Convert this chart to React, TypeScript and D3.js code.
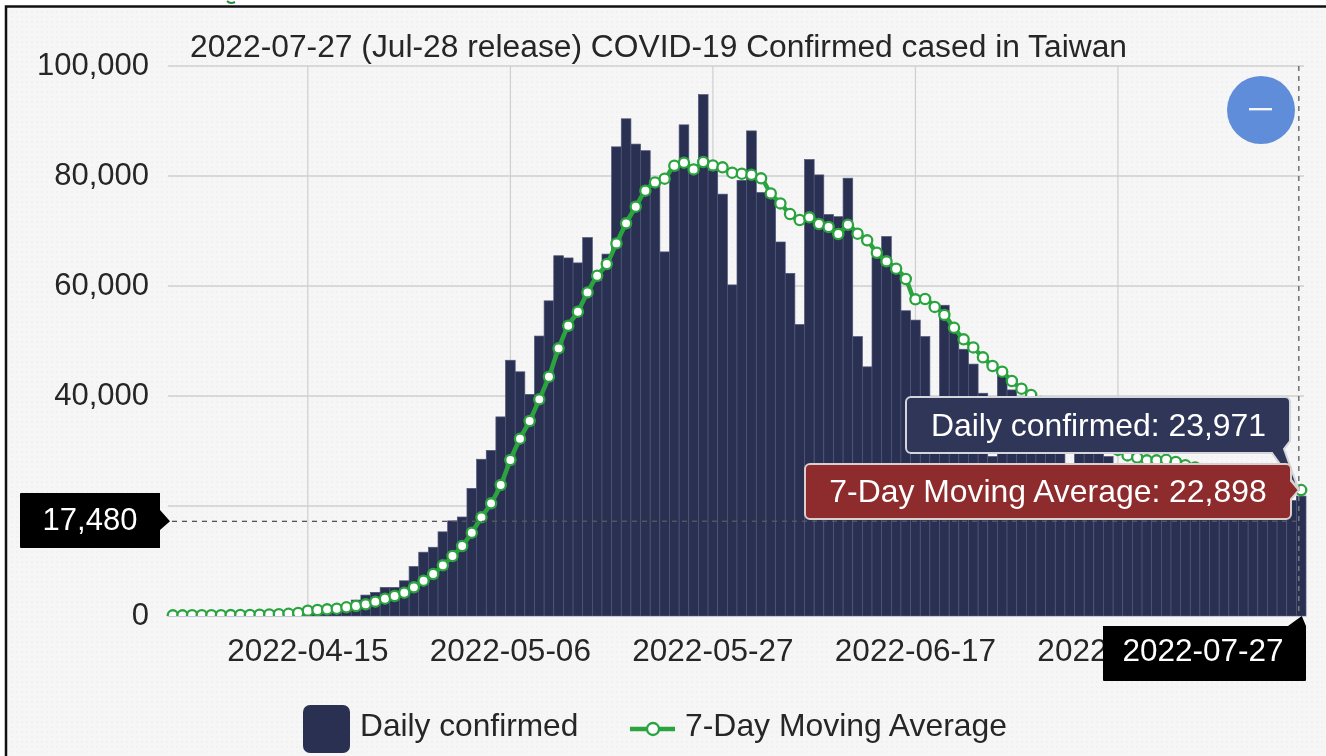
import React from "react";
import * as d3 from "d3";

const titleText = "2022-07-27 (Jul-28 release) COVID-19 Confirmed cased in Taiwan";
const startDate = "2022-04-01";
const dailyConfirmed = [
  50,60,70,80,80,90,100,110,130,150,200,250,300,380,
  430,500,700,1000,1600,
  2900,3800,4300,5200,5200,6400,9000,11600,12500,15300,17300,
  18000,23200,28500,30100,36200,46500,44400,40300,50900,57300,
  65500,65100,64200,68800,61000,65800,85300,90400,85800,84600,
  78500,66200,81000,89300,81700,94800,81000,76700,60200,79200,
  88200,77000,76200,68000,62300,53000,83000,80200,73000,72600,
  79600,50800,45300,65300,69000,63500,55500,53800,50800,32000,
  56500,52000,48500,45800,40500,29000,44600,41100,36000,34000,
  31000,33000,31500,27000,30500,30000,29500,29000,27000,26000,
  25000,27000,26000,25500,24000,21000,26000,25500,24500,25000,
  24000,22500,19500,24500,24000,23000,21000,21800,
];
const movingAverage = [
  120,120,130,130,140,150,160,180,200,230,270,320,400,560,
  970,1090,1210,1330,1580,1820,2120,2610,3150,3640,4240,5210,6420,7640,9210,10910,
  12730,15150,17940,20480,23820,28360,32240,35450,39390,43510,
  48660,52780,55330,58840,61870,63990,67750,71390,74420,77330,
  78840,79510,81870,82420,81200,82540,81930,81570,80600,80420,
  80230,79570,76840,75020,73080,71990,72480,71270,70720,69450,
  71140,69510,68300,66050,64480,63150,61270,57570,57630,56200,
  54750,52420,50300,48840,47030,45450,44420,42720,41330,40180,
  38900,37700,36300,34800,33800,32900,31900,31000,30200,29200,
  28800,28300,28300,28400,28000,27400,27000,26700,26400,26000,
  25600,25300,25000,24600,24200,23800,23300,22898,
];
const yTicks = [0, 20000, 40000, 60000, 80000, 100000];
const xTickLabels = ["2022-04-15", "2022-05-06", "2022-05-27", "2022-06-17", "2022-07-08"];
const legendLabels = ["Daily confirmed", "7-Day Moving Average"];
const tooltipDaily = "Daily confirmed: 23,971";
const tooltipAverage = "7-Day Moving Average: 22,898";
const crosshairValue = 17480;
const crosshairDate = "2022-07-27";

const fmtDate = d3.utcFormat("%Y-%m-%d");
const first = new Date(startDate + "T00:00:00Z");
const dates = dailyConfirmed.map((_, i) => fmtDate(d3.utcDay.offset(first, i)));

const FONT = "'Liberation Sans', Arial, sans-serif";
const NAVY = "#2a3052";
const GREEN = "#2ba43f";
const TEXT = "#262626";

export default function App() {
  const x = d3.scaleBand<string>().domain(dates).range([168, 1306]).paddingInner(0).paddingOuter(0);
  const y = d3.scaleLinear().domain([0, 100000]).range([616, 66]);
  const cx = (d: string) => (x(d) as number) + x.bandwidth() / 2;
  const line = d3
    .line<number>()
    .x((_, i) => cx(dates[i]))
    .y((v) => y(v))
    .curve(d3.curveMonotoneX);
  const fmt = d3.format(",");
  const hairX = cx(crosshairDate) - 2.4;
  const hairY = y(crosshairValue) + 1.5;
  const tipY = y(movingAverage[movingAverage.length - 1]);

  return (
    <svg
      width={1326}
      height={756}
      viewBox="0 0 1326 756"
      style={{ position: "absolute", left: 0, top: 0, display: "block", filter: "blur(0.45px)" }}
      fontFamily={FONT}
    >
      <defs>
        <pattern id="grain" width="5" height="5" patternUnits="userSpaceOnUse">
          <rect width="5" height="5" fill="#f6f6f6" />
          <rect x="1" y="1" width="2" height="2" fill="#f1f1f1" />
        </pattern>
        <clipPath id="plot">
          <rect x={160} y={40} width={1160} height={576} />
        </clipPath>
      </defs>
      <rect width={1326} height={756} fill="#ffffff" />
      <rect x={6} y={6} width={1320} height={750} fill="url(#grain)" />
      <path d="M6 756V6.5H1326" fill="none" stroke="#111" strokeWidth={2.5} />
      <path d="M227 1c2 2 5 2.5 8 1" fill="none" stroke="#2b8a3e" strokeWidth={2} />

      {yTicks.filter((t) => t > 0).map((t) => (
        <line key={t} x1={168} x2={1304} y1={y(t)} y2={y(t)} stroke="#cfcfcf" strokeWidth={1.4} />
      ))}
      {xTickLabels.map((t) => (
        <line key={t} x1={cx(t)} x2={cx(t)} y1={66} y2={616} stroke="#cfcfcf" strokeWidth={1.2} />
      ))}

      {dailyConfirmed.map((v, i) => (
        <rect
          key={dates[i]}
          x={x(dates[i])}
          y={y(v)}
          width={x.bandwidth()}
          height={y(0) - y(v)}
          fill={NAVY}
          stroke="#4f5679"
          strokeWidth={0.7}
        />
      ))}
      <line x1={168} x2={1306} y1={616.5} y2={616.5} stroke="#c4c8d4" strokeWidth={1} />

      <g clipPath="url(#plot)">
        <path d={line(movingAverage) || ""} fill="none" stroke={GREEN} strokeWidth={4.5} />
        {movingAverage.map((v, i) => (
          <circle key={dates[i]} cx={cx(dates[i])} cy={y(v)} r={5.1} fill="#fff" stroke={GREEN} strokeWidth={2.3} />
        ))}
      </g>

      <line x1={172} x2={hairX} y1={hairY} y2={hairY} stroke="#8f8f8f" strokeWidth={1.3} strokeDasharray="5 5" />
      <line x1={172} x2={hairX} y1={hairY} y2={hairY} stroke="#111" strokeOpacity={0.45} strokeWidth={1.3} strokeDasharray="5 5" />
      <line x1={hairX} x2={hairX} y1={66} y2={616} stroke="#777" strokeWidth={1.6} strokeDasharray="5 5" />

      {yTicks.map((t) => (
        <text key={t} x={149} y={y(t) + 9} textAnchor="end" fontSize={31} fill={TEXT}>
          {fmt(t)}
        </text>
      ))}
      {xTickLabels.map((t) => (
        <text key={t} x={cx(t)} y={661} textAnchor="middle" fontSize={31.5} fill={TEXT}>
          {t}
        </text>
      ))}
      <text x={190} y={57} fontSize={31} fill={TEXT} textLength={937} lengthAdjust="spacingAndGlyphs">
        {titleText}
      </text>

      <circle cx={1261} cy={110} r={34} fill="#5f8dd9" />
      <rect x={1249} y={108} width={23} height={2.4} fill="#f4f6fb" />

      {/* tooltips */}
      <path
        d={`M911 397H1285a5 5 0 0 1 5 5V441L1284 449L${hairX} ${tipY}L1272 453H911a5 5 0 0 1 -5 -5V402a5 5 0 0 1 5 -5Z`}
        fill="#2f3657"
        stroke="#d5d6dc"
        strokeWidth={2}
      />
      <text x={1098.5} y={436} textAnchor="middle" fontSize={31.9} fill="#fff">
        {tooltipDaily}
      </text>
      <path
        d={`M810 464H1286a5 5 0 0 1 5 5V481L${hairX} ${tipY}L1291 499V514a5 5 0 0 1 -5 5H810a5 5 0 0 1 -5 -5V469a5 5 0 0 1 5 -5Z`}
        fill="#8e2b2d"
        stroke="#d9cfcf"
        strokeWidth={2}
      />
      <text x={1048} y={502} textAnchor="middle" fontSize={31.9} fill="#fff">
        {tooltipAverage}
      </text>

      {/* crosshair labels */}
      <path
        d={`M21 493H160V510L170 ${hairY}L160 530V548H21a1 1 0 0 1 -1 -1V494a1 1 0 0 1 1 -1Z`}
        fill="#000"
      />
      <text x={90} y={530} textAnchor="middle" fontSize={31} fill="#fff">
        {fmt(crosshairValue)}
      </text>
      <path
        d={`M1103 626H1288L${hairX + 3} 616L1306 626V680a1 1 0 0 1 -1 1H1104a1 1 0 0 1 -1 -1Z`}
        fill="#000"
      />
      <text x={1203} y={661} textAnchor="middle" fontSize={31.5} fill="#fff">
        {crosshairDate}
      </text>

      {/* legend */}
      <rect x={303} y={705} width={47} height={48} rx={7} fill={NAVY} />
      <text x={360} y={736} fontSize={31.7} fill={TEXT}>
        {legendLabels[0]}
      </text>
      <line x1={630} x2={675} y1={729} y2={729} stroke={GREEN} strokeWidth={4.5} />
      <circle cx={653} cy={729} r={6} fill="#fff" stroke={GREEN} strokeWidth={2.3} />
      <text x={685} y={736} fontSize={31.9} fill={TEXT}>
        {legendLabels[1]}
      </text>
    </svg>
  );
}
